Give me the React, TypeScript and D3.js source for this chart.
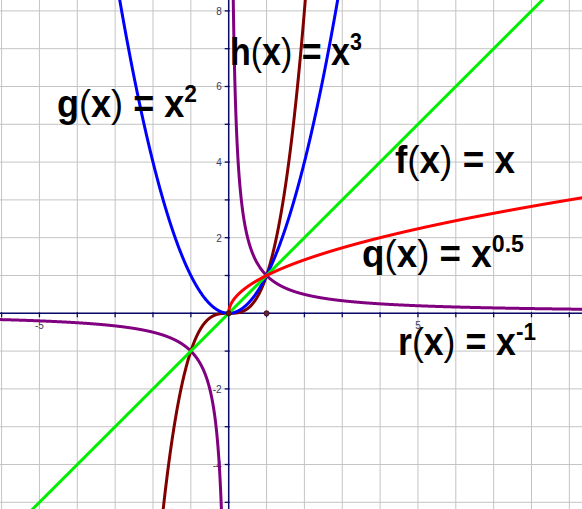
import React from "react";
import * as d3 from "d3";

const W = 582;
const H = 509;

// axis window (math units)
const xDomain = [-6.042, 9.334];
const yDomain = [-5.177, 8.288];

const gridX = d3.range(-6, 10);
const gridY = d3.range(-5, 9);
const xTickLabels = [-5, 5];
const yTickLabels = [-4, -2, 2, 4, 6, 8];

// power functions y = x^p
const funcNames = ["r", "h", "g", "f", "q"];
const exponents = [-1, 3, 2, 1, 0.5];
const colors = ["#800080", "#800000", "#0000ff", "#00ee00", "#ff0000"];

// labels
const labelBase = ["g", "h", "f", "q", "r"];
const labelSup = ["2", "3", "", "0.5", "-1"];
const labelX = [57, 230, 395, 362, 398];
const labelY = [117, 65, 173, 267, 355];
const labelW = [140, 132, 120, 162, 138];

const points = [
  [0, 0],
  [1, 0],
];

export default function App() {
  const x = d3.scaleLinear().domain(xDomain).range([0, W]);
  const y = d3.scaleLinear().domain(yDomain).range([H, 0]);
  const line = d3
    .line<[number, number]>()
    .x((d) => x(d[0]))
    .y((d) => y(d[1]))
    .curve(d3.curveLinear);

  const sample = (p: number): [number, number][][] => {
    const branches: [number, number][][] = [];
    if (p === -1) {
      const pos = d3.range(0.1, 9.5, 0.004).map((t) => [t, 1 / t] as [number, number]);
      const neg = d3.range(-6.2, -0.15, 0.004).map((t) => [t, 1 / t] as [number, number]);
      branches.push(pos, neg);
    } else if (p === 0.5) {
      const pts = d3.range(0, 9.5, 0.002).map((t) => [t, Math.sqrt(t)] as [number, number]);
      branches.push(pts);
    } else {
      const lo = p === 1 ? -6.2 : p === 2 ? -3 : -1.8;
      const hi = p === 1 ? 9.5 : p === 2 ? 3 : 2.1;
      const pts = d3.range(lo, hi + 0.001, 0.005).map((t) => [t, Math.pow(t, p)] as [number, number]);
      branches.push(pts);
    }
    return branches;
  };

  const x0 = x(0);
  const y0 = y(0);
  const axisColor = "#0a0a6a";

  return (
    <svg
      width={W}
      height={H}
      style={{ position: "absolute", left: 0, top: 0, display: "block", background: "#fff" }}
    >
      <defs>
        <clipPath id="plot">
          <rect x={0} y={0} width={W} height={H} />
        </clipPath>
      </defs>
      <rect x={0} y={0} width={W} height={H} fill="#ffffff" />
      {/* grid */}
      <g stroke="#c4c4c4" strokeWidth={1}>
        {gridX.map((v) => (
          <line key={"gx" + v} x1={x(v)} x2={x(v)} y1={0} y2={H} />
        ))}
        {gridY.map((v) => (
          <line key={"gy" + v} x1={0} x2={W} y1={y(v)} y2={y(v)} />
        ))}
      </g>
      {/* axes */}
      <g stroke={axisColor} strokeWidth={1.5}>
        <line x1={0} x2={W} y1={y0} y2={y0} />
        <line x1={x0} x2={x0} y1={0} y2={H} />
        {gridX
          .filter((v) => v !== 0)
          .map((v) => (
            <line key={"tx" + v} x1={x(v)} x2={x(v)} y1={y0 - 1} y2={y0 + 4} strokeWidth={1.3} />
          ))}
        {gridY
          .filter((v) => v !== 0)
          .map((v) => (
            <line key={"ty" + v} x1={x0 - 4} x2={x0 + 1} y1={y(v)} y2={y(v)} strokeWidth={1.3} />
          ))}
      </g>
      {/* tick labels */}
      <g fontFamily="Liberation Sans, Arial, sans-serif" fontSize={10} fill="#3a3a5a">
        {xTickLabels.map((v) => (
          <text key={"lx" + v} x={x(v)} y={y0 + 16} textAnchor="middle">
            {v}
          </text>
        ))}
        {yTickLabels.map((v) => (
          <text key={"ly" + v} x={x0 - 7} y={y(v) + 4} textAnchor="end">
            {v}
          </text>
        ))}
      </g>
      {/* curves */}
      <g clipPath="url(#plot)" fill="none" strokeLinejoin="round" strokeLinecap="round">
        {exponents.map((p, i) =>
          sample(p).map((b, j) => (
            <path key={funcNames[i] + j} d={line(b) || ""} stroke={colors[i]} strokeWidth={3} />
          ))
        )}
      </g>
      {/* points */}
      {points.map((pt, i) => (
        <circle
          key={"pt" + i}
          cx={x(pt[0])}
          cy={y(pt[1])}
          r={2.6}
          fill={i === 0 ? "#7a1010" : "#6a2040"}
          stroke="#2a0a10"
          strokeWidth={0.8}
        />
      ))}
      {/* function labels */}
      <g fontFamily="Liberation Sans, Arial, sans-serif" fontWeight="bold" fontSize={38} fill="#000">
        {labelBase.map((name, i) => (
          <text
            key={"lab" + name}
            x={labelX[i]}
            y={labelY[i]}
            textLength={labelW[i]}
            lengthAdjust="spacingAndGlyphs"
          >
            <tspan>{name}</tspan>
            <tspan fontWeight="normal">(</tspan>
            <tspan>x</tspan>
            <tspan fontWeight="normal">)</tspan>
            <tspan>{" = x"}</tspan>
            {labelSup[i] ? (
              <tspan fontSize={24} dy={-15}>
                {labelSup[i]}
              </tspan>
            ) : null}
          </text>
        ))}
      </g>
    </svg>
  );
}
